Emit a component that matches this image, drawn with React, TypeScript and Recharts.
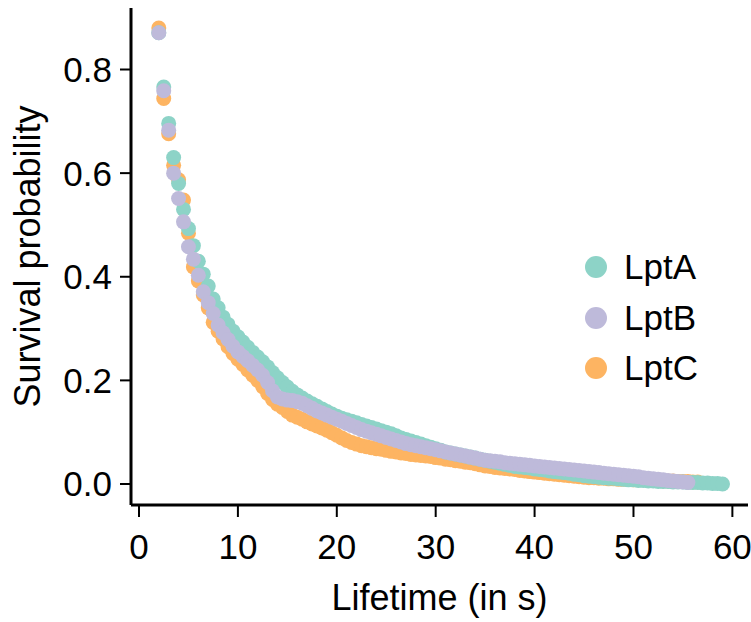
import React from "react";
import { ScatterChart, Scatter, XAxis, YAxis } from "recharts";

const FONT = '"Liberation Sans", Arial, sans-serif';

// lifetime grid (s)
const lifetimes = [
  2, 2.5, 3, 3.5, 4, 4.5, 5, 5.5, 6, 6.5, 7, 7.5, 8, 8.5, 9, 9.5, 10, 10.5, 11, 11.5,
  12, 12.5, 13, 13.5, 14, 14.5, 15, 15.5, 16, 16.5, 17, 17.5, 18, 18.5, 19, 19.5, 20, 20.5,
  21, 21.5, 22, 22.5, 23, 23.5, 24, 24.5, 25, 25.5, 26, 26.5, 27, 27.5, 28, 28.5, 29, 29.5,
  30, 30.5, 31, 31.5, 32, 32.5, 33, 33.5, 34, 34.5, 35, 35.5, 36, 36.5, 37, 37.5, 38, 38.5,
  39, 39.5, 40, 40.5, 41, 41.5, 42, 42.5, 43, 43.5, 44, 44.5, 45, 45.5, 46, 46.5, 47, 47.5,
  48, 48.5, 49, 49.5, 50, 50.5, 51, 51.5, 52, 52.5, 53, 53.5, 54, 54.5, 55, 55.5, 56, 56.5,
  57, 57.5, 58, 58.5, 59,
];

const lptA = [
  0.871, 0.766, 0.696, 0.63, 0.58, 0.53, 0.493, 0.46, 0.43, 0.405, 0.382, 0.357, 0.34, 0.322,
  0.308, 0.295, 0.284, 0.274, 0.264, 0.254, 0.245, 0.236, 0.226, 0.215, 0.205, 0.196, 0.187,
  0.179, 0.172, 0.166, 0.16, 0.155, 0.15, 0.145, 0.14, 0.135, 0.131, 0.127, 0.124, 0.121,
  0.118, 0.115, 0.112, 0.109, 0.106, 0.103, 0.1, 0.097, 0.093, 0.089, 0.086, 0.083, 0.08,
  0.077, 0.074, 0.071, 0.068, 0.065, 0.062, 0.06, 0.058, 0.056, 0.054, 0.052, 0.05, 0.048,
  0.046, 0.044, 0.042, 0.04, 0.038, 0.036, 0.034, 0.033, 0.032, 0.031, 0.029, 0.028, 0.027,
  0.025, 0.024, 0.023, 0.022, 0.021, 0.019, 0.018, 0.016, 0.015, 0.014, 0.013, 0.012, 0.011,
  0.011, 0.01, 0.009, 0.008, 0.008, 0.007, 0.007, 0.006, 0.006, 0.005, 0.005, 0.005, 0.004,
  0.004, 0.004, 0.003, 0.003, 0.003, 0.002, 0.002, 0.001, 0.001, 0.0,
];

const lptB = [
  0.871, 0.759, 0.683, 0.6, 0.551, 0.506, 0.458, 0.434, 0.403, 0.371, 0.35, 0.329, 0.307,
  0.292, 0.279, 0.266, 0.255, 0.246, 0.238, 0.229, 0.22, 0.21, 0.196, 0.18, 0.168, 0.164,
  0.162, 0.161, 0.159, 0.156, 0.151, 0.146, 0.141, 0.137, 0.133, 0.129, 0.125, 0.121, 0.117,
  0.113, 0.109, 0.105, 0.102, 0.099, 0.096, 0.093, 0.09, 0.087, 0.084, 0.081, 0.078, 0.076,
  0.074, 0.072, 0.07, 0.068, 0.066, 0.064, 0.062, 0.06, 0.058, 0.056, 0.054, 0.052, 0.05,
  0.048, 0.046, 0.045, 0.044, 0.043, 0.041, 0.04, 0.039, 0.038, 0.037, 0.036, 0.035, 0.034,
  0.033, 0.032, 0.031, 0.03, 0.029, 0.028, 0.027, 0.026, 0.025, 0.024, 0.023, 0.022, 0.021,
  0.02, 0.019, 0.018, 0.017, 0.016, 0.015, 0.014, 0.012, 0.011, 0.01, 0.009, 0.008, 0.007,
  0.006, 0.005, 0.004, 0.003,
];

const lptC = [
  0.88, 0.744, 0.676, 0.615, 0.587, 0.548, 0.484, 0.419, 0.392, 0.365, 0.34, 0.312, 0.295,
  0.28, 0.265, 0.252, 0.241, 0.231, 0.22, 0.21, 0.2, 0.188, 0.175, 0.163, 0.154, 0.148, 0.14,
  0.133, 0.129, 0.125, 0.12, 0.116, 0.112, 0.108, 0.104, 0.099, 0.094, 0.089, 0.084, 0.08,
  0.077, 0.074, 0.072, 0.07, 0.068, 0.067, 0.065, 0.063, 0.062, 0.06, 0.059, 0.057, 0.056,
  0.055, 0.054, 0.053, 0.051, 0.05, 0.048, 0.047, 0.045, 0.044, 0.042, 0.041, 0.039, 0.037,
  0.035, 0.034, 0.032, 0.031, 0.03, 0.029, 0.028, 0.026, 0.025, 0.024, 0.023, 0.022, 0.021,
  0.02, 0.019, 0.018, 0.017, 0.016, 0.015, 0.014, 0.013, 0.012, 0.012, 0.011, 0.011, 0.01,
  0.01, 0.009, 0.009, 0.009, 0.008, 0.008, 0.008, 0.007, 0.007, 0.007, 0.006, 0.006, 0.006,
  0.005, 0.005, 0.005, 0.004, 0.004,
];

const xTicks = [0, 10, 20, 30, 40, 50, 60];
const yTicks = [0, 0.2, 0.4, 0.6, 0.8];

const series = [
  { name: "LptA", values: lptA, color: "#8dd3c7" },
  { name: "LptB", values: lptB, color: "#bebada" },
  { name: "LptC", values: lptC, color: "#fdb462" },
];

// orange at the bottom, lavender on top
const drawOrder = ["LptC", "LptA", "LptB"];

function toPoints(values: number[]) {
  return values.map((p, i) => ({ t: lifetimes[i], p }));
}

const dotShape = (color: string) => (props: any) =>
  <circle cx={props.cx} cy={props.cy} r={7.5} fill={color} />;

export default function App() {
  return (
    <div style={{ position: "absolute", left: 0, top: 0, width: 751, height: 622, background: "#fff" }}>
      <ScatterChart width={751} height={622} margin={{ top: 8, right: 3, bottom: 0, left: 0 }}>
        <XAxis
          type="number"
          dataKey="t"
          domain={[-0.81, 61.58]}
          allowDataOverflow
          ticks={xTicks}
          tickSize={12}
          tickMargin={17}
          height={117}
          axisLine={{ stroke: "#000", strokeWidth: 3 }}
          tickLine={{ stroke: "#000", strokeWidth: 2 }}
          tick={{ fill: "#000", fontSize: 35, fontFamily: FONT }}
          label={{ value: "Lifetime (in s)", position: "insideBottom", offset: 12, fill: "#000", fontSize: 36, fontFamily: FONT }}
        />
        <YAxis
          type="number"
          dataKey="p"
          domain={[-0.0405, 0.9187]}
          allowDataOverflow
          ticks={yTicks}
          tickFormatter={(v: number) => v.toFixed(1)}
          width={131}
          tickSize={11}
          tickMargin={8}
          axisLine={{ stroke: "#000", strokeWidth: 3 }}
          tickLine={{ stroke: "#000", strokeWidth: 2 }}
          tick={{ fill: "#000", fontSize: 35, fontFamily: FONT }}
          label={{ value: "Survival probability", angle: -90, position: "insideLeft", offset: 27, textAnchor: "middle", fill: "#000", fontSize: 36, fontFamily: FONT }}
        />
        {drawOrder.map((name) => {
          const s = series.find((x) => x.name === name)!;
          return (
            <Scatter
              key={s.name}
              name={s.name}
              data={toPoints(s.values)}
              fill={s.color}
              shape={dotShape(s.color)}
              isAnimationActive={false}
            />
          );
        })}
      </ScatterChart>
      <div style={{ position: "absolute", left: 585, top: 242, fontFamily: FONT, fontSize: 35, color: "#000" }}>
        {series.map((s) => (
          <div key={s.name} style={{ display: "flex", alignItems: "center", height: 50.5 }}>
            <span style={{ width: 22, height: 22, borderRadius: "50%", background: s.color, display: "inline-block", marginRight: 17 }} />
            <span style={{ lineHeight: "50.5px" }}>{s.name}</span>
          </div>
        ))}
      </div>
    </div>
  );
}
